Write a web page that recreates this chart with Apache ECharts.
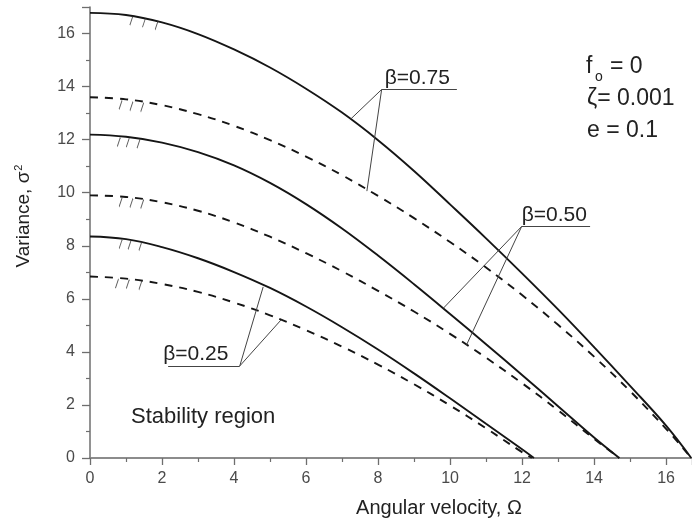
<!DOCTYPE html>
<html><head><meta charset="utf-8">
<script src="https://cdn.jsdelivr.net/npm/echarts@6/dist/echarts.min.js"></script>
<style>html,body{margin:0;padding:0;background:#fff}#c{width:692px;height:524px}</style>
</head><body><div id="c"></div>
<script>
// ---- data ----
const s75x = [0,1,2,3,4,5,6,7,8,9,10,11,12,13,14,15,16,16.7];
const s75y = [16.78,16.70,16.42,15.98,15.40,14.72,13.92,13.02,11.98,10.82,9.56,8.28,6.96,5.60,4.18,2.72,1.22,0];
const d75x = [0,1,2,3,4,5,6,7,8,9,10,11,12,13,14,15,16,16.7];
const d75y = [13.6,13.52,13.30,12.96,12.52,11.98,11.36,10.66,9.88,9.04,8.14,7.18,6.14,5.02,3.82,2.52,1.10,0];
const s50x = [0,1,2,3,4,5,6,7,8,9,10,11,12,13,14,14.7];
const s50y = [12.19,12.11,11.89,11.53,11.03,10.37,9.57,8.65,7.63,6.55,5.43,4.29,3.13,1.95,0.77,0];
const d50x = [0,1,2,3,4,5,6,7,8,9,10,11,12,13,14,14.7];
const d50y = [9.9,9.84,9.64,9.32,8.88,8.34,7.72,7.04,6.30,5.52,4.68,3.78,2.82,1.80,0.72,0];
const s25x = [0,1,2,3,4,5,6,7,8,9,10,11,12,12.33];
const s25y = [8.35,8.25,7.95,7.53,7.01,6.41,5.71,4.93,4.09,3.19,2.25,1.29,0.33,0];
const d25x = [0,1,2,3,4,5,6,7,8,9,10,11,12,12.27];
const d25y = [6.84,6.76,6.56,6.26,5.86,5.38,4.82,4.20,3.52,2.78,1.98,1.12,0.22,0];
// small hatch marks near the start of each curve
const hatchX = [1.15,1.5,1.85, 0.85,1.15,1.45, 0.8,1.05,1.35, 0.85,1.15,1.45, 0.85,1.1,1.4, 0.75,1.05,1.4];
const hatchY = [16.68,16.6,16.5, 13.5,13.45,13.41, 12.1,12.08,12.04, 9.83,9.8,9.76, 8.25,8.23,8.18, 6.77,6.75,6.7];
// annotation labels and their pointer geometry (data coordinates)
const betaLabels = ['β=0.75','β=0.50','β=0.25'];
const anchorX = [8.10, 11.99, 4.16];
const anchorY = [13.89, 8.73, 3.47];
const underlineEndX = [10.19, 13.89, 2.17];
const pointSolidX = [7.22, 9.81, 4.81];
const pointSolidY = [12.75, 5.64, 6.45];
const pointDashX = [7.69, 10.46, 5.31];
const pointDashY = [10.06, 4.27, 5.21];
const xTickInterval = 2, yTickInterval = 2;
const xMin = 0, xMax = 16.72, yMin = 0, yMax = 17;
const xTitle = 'Angular velocity, Ω';
const yTitleMain = 'Variance, σ';
const yTitleSup = '2';
const params = ['= 0', 'ζ= 0.001', 'e = 0.1'];
const regionText = 'Stability region';

const FONT = "'Liberation Sans', Arial, sans-serif";
const chart = echarts.init(document.getElementById('c'), null, {renderer:'canvas'});

function curve(name, xs, ys, dashed) {
  return {
    type:'line', name, data: xs.map((x,i)=>[x, ys[i]]), smooth:0.4,
    symbol:'none', showSymbol:false, silent:true, z:3,
    lineStyle:{color:'#151515', width:1.9, type: dashed ? [8,7] : 'solid'}
  };
}
const segs = [];
for (let i=0;i<3;i++){
  segs.push([{coord:[anchorX[i],anchorY[i]]},{coord:[underlineEndX[i],anchorY[i]]}]);
  segs.push([{coord:[anchorX[i],anchorY[i]]},{coord:[pointSolidX[i],pointSolidY[i]]}]);
  segs.push([{coord:[anchorX[i],anchorY[i]]},{coord:[pointDashX[i],pointDashY[i]]}]);
}

const axisCol = '#6e6e6e';
chart.setOption({
  animation:false,
  backgroundColor:'#fff',
  grid:{left:90, right:0, top:7, bottom:66, containLabel:false},
  xAxis:[{
    type:'value', min:xMin, max:xMax, interval:xTickInterval,
    axisLine:{show:true, onZero:false, lineStyle:{color:axisCol, width:1.5}},
    axisTick:{show:true, inside:false, length:7, lineStyle:{color:axisCol, width:1.3}},
    minorTick:{show:true, splitNumber:2, length:4, lineStyle:{color:axisCol, width:1.2}},
    axisLabel:{color:'#4a4a4a', fontSize:16, fontFamily:FONT, margin:13, showMaxLabel:false},
    splitLine:{show:false}
  },{
    type:'value', position:'top', min:xMin, max:xMax,
    axisLine:{show:true, lineStyle:{color:'#8a8a8a', width:1.5}},
    axisTick:{show:false}, axisLabel:{show:false}, splitLine:{show:false}
  }],
  yAxis:{
    type:'value', min:yMin, max:yMax, interval:yTickInterval,
    axisLine:{show:true, onZero:false, lineStyle:{color:axisCol, width:1.5}},
    axisTick:{show:true, length:8, lineStyle:{color:axisCol, width:1.3}},
    minorTick:{show:true, splitNumber:2, length:4, lineStyle:{color:axisCol, width:1.2}},
    axisLabel:{color:'#4a4a4a', fontSize:16, fontFamily:FONT, margin:15, showMaxLabel:false},
    splitLine:{show:false}
  },
  series:[
    curve('S75', s75x, s75y, false),
    curve('D75', d75x, d75y, true),
    curve('S50', s50x, s50y, false),
    curve('D50', d50x, d50y, true),
    curve('S25', s25x, s25y, false),
    curve('D25', d25x, d25y, true),
    {
      type:'scatter', name:'hatch', silent:true, z:4,
      data: hatchX.map((x,i)=>[x, hatchY[i]]),
      symbol:'path://M2,0 L0,10', symbolSize:[3,9], symbolOffset:[0,5],
      itemStyle:{color:'none', borderColor:'#333', borderWidth:1.2},
      markLine:{
        silent:true, symbol:['none','none'], animation:false,
        label:{show:false}, lineStyle:{color:'#444', width:1, type:'solid'},
        emphasis:{disabled:true},
        data:segs
      }
    }
  ]
});

// text annotations
const g = [];
const offs = [3, 0, -5];
for (let i=0;i<3;i++){
  const p = chart.convertToPixel({gridIndex:0}, [anchorX[i], anchorY[i]]);
  const left = Math.min(p[0], chart.convertToPixel({gridIndex:0}, [underlineEndX[i], anchorY[i]])[0]);
  g.push({type:'text', x:left+offs[i], y:p[1]-1,
    style:{text:betaLabels[i], fill:'#222', font:'21px '+FONT, textAlign:'left', textVerticalAlign:'bottom'}});
}
g.push({type:'text', x:586, y:67, style:{text:'f', fill:'#222', font:'23px '+FONT, textAlign:'left', textVerticalAlign:'middle'}});
g.push({type:'text', x:595, y:77, style:{text:'o', fill:'#222', font:'14px '+FONT, textAlign:'left', textVerticalAlign:'middle'}});
g.push({type:'text', x:610, y:67, style:{text:params[0], fill:'#222', font:'23px '+FONT, textAlign:'left', textVerticalAlign:'middle'}});
g.push({type:'text', x:587, y:99, style:{text:params[1], fill:'#222', font:'23px '+FONT, textAlign:'left', textVerticalAlign:'middle'}});
g.push({type:'text', x:587, y:131, style:{text:params[2], fill:'#222', font:'23px '+FONT, textAlign:'left', textVerticalAlign:'middle'}});
g.push({type:'text', x:131, y:417, style:{text:regionText, fill:'#222', font:'22px '+FONT, textAlign:'left', textVerticalAlign:'middle'}});
g.push({type:'text', x:439, y:508, style:{text:xTitle, fill:'#222', font:'20px '+FONT, textAlign:'center', textVerticalAlign:'middle'}});
g.push({type:'text', x:24, y:216, rotation:Math.PI/2,
  style:{text:'{m|'+yTitleMain+'}{s|'+yTitleSup+'}', fill:'#222', textAlign:'center', textVerticalAlign:'middle',
    rich:{m:{font:'19px '+FONT, fill:'#222'}, s:{font:'11px '+FONT, fill:'#222', padding:[0,0,10,1]}}}});
chart.setOption({graphic:g});
</script>
</body></html>
